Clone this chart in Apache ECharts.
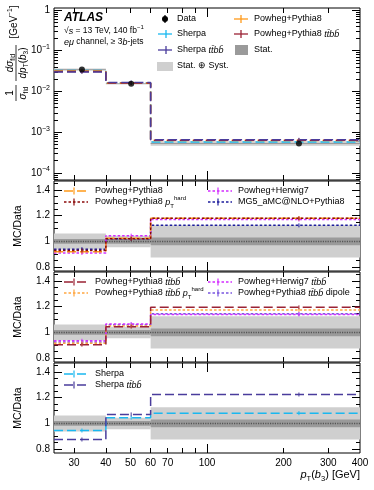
<!DOCTYPE html>
<html><head><meta charset="utf-8">
<script src="https://cdn.jsdelivr.net/npm/echarts@6/dist/echarts.min.js"></script>
<style>html,body{margin:0;padding:0;background:#fff}#c{width:374px;height:490px}</style>
</head><body><div id="c"></div>
<script>
// ---------------- data ----------------
const binEdges = [25, 40, 60, 400];
const dataX = [32.2, 50.3, 230];
const dataY = [0.0345, 0.0155, 0.00053];
// top panel predictions (normalised cross-section, GeV^-1)
const topPP8 = [0.0318, 0.0159, 0.000625];
const topPP8ttbb = [0.0311, 0.0161, 0.00063];
const topSherpa = [0.0326, 0.0162, 0.000573];
const topSherpaTtbb = [0.0302, 0.0166, 0.00065];
// relative uncertainties of data
const relStatSyst = [0.062, 0.045, 0.125];
const relStat = [0.018, 0.018, 0.03];
// ratio panel 2
const rPP8 = [0.92, 1.025, 1.18];
const rPP8hard = [0.93, 1.02, 1.18];
const rPH7 = [0.91, 1.045, 1.17];
const rMG5 = [0.94, 1.02, 1.125];
// ratio panel 3
const rPP8ttbb = [0.905, 1.045, 1.195];
const rPP8ttbbHard = [0.915, 1.05, 1.175];
const rPH7ttbb = [0.935, 1.065, 1.14];
const rPP8ttbbDipole = [0.925, 1.06, 1.145];
// ratio panel 4
const rSherpa = [0.945, 1.045, 1.08];
const rSherpaTtbb = [0.875, 1.07, 1.225];
// ticks / labels
const xTickLabels = [30, 40, 50, 60, 70, 100, 200, 300, 400];
const xMinorTicks = [30, 40, 50, 60, 70, 80, 90, 200, 300];
const xMajorTicks = [100];
const yTopLabels = [1e-4, 1e-3, 1e-2, 1e-1, 1];
const ratioLabels = [0.8, 1, 1.2, 1.4];

// ---------------- style ----------------
const FONT = '"Liberation Sans", Arial, Helvetica, sans-serif';
const C = {
  orange: '#ff9a1a', darkred: '#8b0a0a', ttbbRed: '#9b2335', magenta: '#d22cff',
  mg5: '#1c1c9c', lorange: '#ffa640', dipole: '#7a55e0', sky: '#1ab8f0', slate: '#4a3c9c',
  light: '#cfcfcf', dark: '#9a9a9a'
};
const LONG = [9, 4], DOT = [2.5, 2];

const yTopMinor = [];
for (let e = -5; e <= 0; e++) for (let m = 2; m <= 9; m++) yTopMinor.push(m * Math.pow(10, e));
const ratioMinor = [];
for (let v = 0.8; v <= 1.451; v += 0.05) ratioMinor.push(Math.round(v * 100) / 100);

const gridDefs = [[8, 172], [181, 90], [272, 90], [363, 90]];
const grids = gridDefs.map(g => ({left: 54, right: 14, top: g[0], height: g[1], show: true,
  borderColor: '#000', borderWidth: 1, backgroundColor: 'transparent', containLabel: false}));

const xAxes = [], yAxes = [];
function xAx(gi, pos, ticks, len, withLabels) {
  return {type: 'log', logBase: 10, gridIndex: gi, position: pos, min: 25, max: 400,
    axisLine: {show: false, onZero: false}, splitLine: {show: false},
    axisTick: {show: true, inside: true, length: len, customValues: ticks, lineStyle: {color: '#000', width: 1}},
    axisLabel: withLabels ? {show: true, customValues: xTickLabels, margin: 5, fontSize: 10, fontFamily: FONT, color: '#000',
      formatter: v => String(Math.round(v))} : {show: false}};
}
function yAx(gi, pos, isTop, ticks, len, withLabels) {
  const base = isTop ? {type: 'log', logBase: 10, min: 6.7e-5, max: 1.12} : {type: 'value', min: 0.77, max: 1.47};
  return Object.assign(base, {gridIndex: gi, position: pos,
    axisLine: {show: false, onZero: false}, splitLine: {show: false},
    axisTick: {show: true, inside: true, length: len, customValues: ticks, lineStyle: {color: '#000', width: 1}},
    axisLabel: withLabels ? {show: true, customValues: isTop ? yTopLabels : ratioLabels, margin: 4, fontSize: 10,
      fontFamily: FONT, color: '#000',
      formatter: isTop ? (v => { const e = Math.round(Math.log10(v)); return e === 0 ? '1' : '10{s|\u2212' + (-e) + '}'; })
                       : (v => Math.abs(v - 1) < 1e-9 ? '1' : v.toFixed(1)),
      rich: {s: {fontSize: 7, fontFamily: FONT, verticalAlign: 'top', lineHeight: 14, color: '#000'}}} : {show: false}});
}
for (let gi = 0; gi < 4; gi++) {
  xAxes.push(xAx(gi, 'bottom', xMajorTicks, 9, gi === 3));
  xAxes.push(xAx(gi, 'bottom', xMinorTicks, 5, false));
  xAxes.push(xAx(gi, 'top', xMajorTicks, 9, false));
  xAxes.push(xAx(gi, 'top', xMinorTicks, 5, false));
  const isTop = gi === 0;
  const maj = isTop ? yTopLabels : ratioLabels, mnr = isTop ? yTopMinor : ratioMinor;
  yAxes.push(yAx(gi, 'left', isTop, maj, 8, true));
  yAxes.push(yAx(gi, 'left', isTop, mnr, 4, false));
  yAxes.push(yAx(gi, 'right', isTop, maj, 8, false));
  yAxes.push(yAx(gi, 'right', isTop, mnr, 4, false));
}

// ---------------- series ----------------
const series = [];
function band(gi, center, rel, color, z) {
  series.push({type: 'custom', xAxisIndex: gi * 4, yAxisIndex: gi * 4, silent: true, z: z, clip: true,
    encode: {x: [0, 1], y: [2, 3]},
    data: rel.map((r, i) => {
      const c = center ? center[i] : 1;
      return [binEdges[i], binEdges[i + 1], c * (1 - r), c * (1 + r)];
    }),
    renderItem: (params, api) => {
      const p0 = api.coord([api.value(0), api.value(3)]);
      const p1 = api.coord([api.value(1), api.value(2)]);
      return {type: 'rect', shape: {x: p0[0], y: p0[1], width: p1[0] - p0[0], height: p1[1] - p0[1]}, style: {fill: color}};
    }});
}
function step(gi, vals, color, dash, width, z) {
  series.push({type: 'line', xAxisIndex: gi * 4, yAxisIndex: gi * 4, step: 'end', symbol: 'none', silent: true,
    z: z || 3, clip: true, data: binEdges.map((e, i) => [e, vals[Math.min(i, vals.length - 1)]]),
    lineStyle: {color: color, width: width || 1.5, type: dash}});
  // small MC statistical error bar marks at the bin positions
  series.push({type: 'custom', xAxisIndex: gi * 4, yAxisIndex: gi * 4, silent: true, z: (z || 3) + 0.1, clip: true,
    encode: {x: 0, y: 1}, data: dataX.map((x, i) => [x, vals[i]]),
    renderItem: (params, api) => {
      const p = api.coord([api.value(0), api.value(1)]);
      return {type: 'line', shape: {x1: p[0], y1: p[1] - 2, x2: p[0], y2: p[1] + 2}, style: {stroke: color, lineWidth: 1}};
    }});
}
function unity(gi) {
  series.push({type: 'line', xAxisIndex: gi * 4, yAxisIndex: gi * 4, symbol: 'none', silent: true, z: 2,
    data: [[25, 1], [400, 1]], lineStyle: {color: '#555', width: 1.6, type: [1.2, 1.2]}});
}
// top panel
band(0, dataY, relStatSyst, C.light, 1);
band(0, dataY, relStat, C.dark, 1);
step(0, topSherpa, C.sky, LONG, 1.5);
step(0, topPP8, C.orange, LONG, 1.5);
step(0, topPP8ttbb, C.ttbbRed, LONG, 1.5);
step(0, topSherpaTtbb, C.slate, LONG, 1.5);
series.push({type: 'scatter', xAxisIndex: 0, yAxisIndex: 0, symbol: 'circle', symbolSize: 6, z: 5, silent: true,
  itemStyle: {color: '#000'}, data: dataX.map((x, i) => [x, dataY[i]])});
// ratio panels
for (let gi = 1; gi <= 3; gi++) { band(gi, null, relStatSyst, C.light, 1); band(gi, null, relStat, C.dark, 1); unity(gi); }
step(1, rMG5, C.mg5, DOT, 1.5);
step(1, rPH7, C.magenta, DOT, 1.5);
step(1, rPP8, C.orange, LONG, 1.5);
step(1, rPP8hard, C.darkred, DOT, 1.5);
step(2, rPP8ttbbDipole, C.dipole, DOT, 1.5);
step(2, rPH7ttbb, C.magenta, DOT, 1.5);
step(2, rPP8ttbbHard, C.lorange, DOT, 1.5);
step(2, rPP8ttbb, C.ttbbRed, LONG, 1.5);
step(3, rSherpa, C.sky, LONG, 1.5);
step(3, rSherpaTtbb, C.slate, LONG, 1.5);

// ---------------- graphic text / legends ----------------
const RICH = {
  i: {fontStyle: 'italic', fontSize: 9, fontFamily: FONT},
  sub: {fontSize: 6, fontFamily: FONT, verticalAlign: 'bottom', lineHeight: 14},
  sup: {fontSize: 6, fontFamily: FONT, verticalAlign: 'top', lineHeight: 14},
  b: {fontSize: 12, fontWeight: 'bold', fontStyle: 'italic', fontFamily: FONT}
};
const G = [];
function txt(x, y, text, opt) {
  G.push({type: 'text', x: x, y: y, silent: true, z: 50,
    style: Object.assign({text: text, fill: '#000', fontSize: 9, fontFamily: FONT, align: 'left', verticalAlign: 'middle', rich: RICH}, opt || {})});
}
function seg(x1, y1, x2, y2, color, dash, w) {
  G.push({type: 'line', silent: true, z: 50, shape: {x1, y1, x2, y2}, style: {stroke: color, lineWidth: w || 1.4, lineDash: dash || null}});
}
function rect(x, y, w, h, color) { G.push({type: 'rect', silent: true, z: 50, shape: {x, y, width: w, height: h}, style: {fill: color}}); }
const TT = 't t\u0304 b b\u0304'.replace(/ /g, '');

// ATLAS label
txt(64, 18, 'ATLAS', {fontSize: 12, fontWeight: 'bold', fontStyle: 'italic'});
txt(64, 31, '\u221A{i|s} = 13 TeV, 140 fb{sup|\u22121}', {fontSize: 8.5});
txt(64, 42, '{i|e\u03BC} channel, \u2265 3{i|b}-jets', {fontSize: 8.5});

// top legend
const c1 = 165, c2 = 241, t1 = 177, t2 = 254;
seg(c1, 15, c1, 23, '#000', null, 1.2);
G.push({type: 'circle', silent: true, z: 50, shape: {cx: c1, cy: 19, r: 3}, style: {fill: '#000'}});
txt(t1, 19, 'Data');
[[34, C.sky, 'Sherpa'], [50, C.slate, 'Sherpa {i|' + TT + '}']].forEach(r => {
  seg(c1 - 7, r[0], c1 + 7, r[0], r[1], null, 1.3); seg(c1 + 1, r[0] - 4, c1 + 1, r[0] + 4, r[1], null, 1.3); txt(t1, r[0], r[2]);
});
rect(c1 - 8, 62, 16, 9, C.light); txt(t1, 66, 'Stat. \u2295 Syst.');
[[19, C.orange, 'Powheg+Pythia8'], [34, C.ttbbRed, 'Powheg+Pythia8 {i|' + TT + '}']].forEach(r => {
  seg(c2 - 7, r[0], c2 + 7, r[0], r[1], null, 1.3); seg(c2, r[0] - 4, c2, r[0] + 4, r[1], null, 1.3); txt(t2, r[0], r[2]);
});
rect(c2 - 6, 45, 13, 10, C.dark); txt(t2, 50, 'Stat.');

// ratio legends
function rleg(x0, x1, tx, y, color, dash, label) {
  seg(x0, y, x1, y, color, dash, 1.5);
  seg(x0 + 10, y - 3.5, x0 + 10, y + 3.5, color, null, 1.2);
  txt(tx, y, label);
}
const hard = '{i|p}{sub|T}{sup|hard}';
rleg(64, 88, 95, 191, C.orange, LONG, 'Powheg+Pythia8');
rleg(64, 88, 95, 202, C.darkred, DOT, 'Powheg+Pythia8 ' + hard);
rleg(208, 232, 238, 191, C.magenta, DOT, 'Powheg+Herwig7');
rleg(208, 232, 238, 202, C.mg5, DOT, 'MG5_aMC@NLO+Pythia8');
rleg(64, 88, 95, 282, C.ttbbRed, LONG, 'Powheg+Pythia8 {i|' + TT + '}');
rleg(64, 88, 95, 293, C.lorange, DOT, 'Powheg+Pythia8 {i|' + TT + '} ' + hard);
rleg(208, 232, 238, 282, C.magenta, DOT, 'Powheg+Herwig7 {i|' + TT + '}');
rleg(208, 232, 238, 293, C.dipole, DOT, 'Powheg+Pythia8 {i|' + TT + '} dipole');
rleg(64, 88, 95, 374, C.sky, LONG, 'Sherpa');
rleg(64, 88, 95, 385, C.slate, LONG, 'Sherpa {i|' + TT + '}');

// axis titles
[226, 317, 408].forEach(y => G.push({type: 'text', silent: true, z: 50, x: 18, y: y, rotation: Math.PI / 2,
  style: {text: 'MC/Data', fontSize: 10.5, fontFamily: FONT, fill: '#000', align: 'center', verticalAlign: 'middle'}}));
G.push({type: 'text', silent: true, z: 50, x: 360, y: 475,
  style: {text: '{i|p}{sub|T}({i|b}{sub|3}) [GeV]', fontSize: 11, fontFamily: FONT, fill: '#000', align: 'right', verticalAlign: 'middle',
    rich: {i: {fontStyle: 'italic', fontSize: 11, fontFamily: FONT}, sub: {fontSize: 7.5, fontFamily: FONT, verticalAlign: 'bottom', lineHeight: 16}}}});
// top y-title (fraction form), rotated
const YR = {i: {fontStyle: 'italic', fontSize: 10, fontFamily: FONT}, s: {fontStyle: 'italic', fontSize: 6.5, fontFamily: FONT, verticalAlign: 'bottom', lineHeight: 14},
  n: {fontSize: 6.5, fontFamily: FONT, verticalAlign: 'bottom', lineHeight: 14}, sp: {fontSize: 6.5, fontFamily: FONT, verticalAlign: 'top', lineHeight: 14}};
G.push({type: 'group', x: 16, y: 93, rotation: Math.PI / 2, silent: true, z: 50, children: [
  {type: 'text', x: 0, y: -6, style: {text: '1', fontSize: 10, fontFamily: FONT, fill: '#000', align: 'center', verticalAlign: 'middle'}},
  {type: 'line', shape: {x1: -8, y1: 0, x2: 8, y2: 0}, style: {stroke: '#000', lineWidth: 0.8}},
  {type: 'text', x: 0, y: 7, style: {text: '{i|\u03C3}{n|fid}', fontSize: 10, fontFamily: FONT, fill: '#000', align: 'center', verticalAlign: 'middle', rich: YR}},
  {type: 'text', x: 30, y: -6, style: {text: '{i|d\u03C3}{n|fid}', fontSize: 10, fontFamily: FONT, fill: '#000', align: 'center', verticalAlign: 'middle', rich: YR}},
  {type: 'line', shape: {x1: 12, y1: 0, x2: 48, y2: 0}, style: {stroke: '#000', lineWidth: 0.8}},
  {type: 'text', x: 30, y: 7, style: {text: '{i|dp}{n|T}({i|b}{n|3})', fontSize: 10, fontFamily: FONT, fill: '#000', align: 'center', verticalAlign: 'middle', rich: YR}},
  {type: 'text', x: 71, y: -2, style: {text: '[GeV{sp|\u22121}]', fontSize: 10, fontFamily: FONT, fill: '#000', align: 'center', verticalAlign: 'middle', rich: YR}}
]});

const chart = echarts.init(document.getElementById('c'), null, {renderer: 'canvas'});
chart.setOption({animation: false, backgroundColor: '#fff', grid: grids, xAxis: xAxes, yAxis: yAxes, series: series, graphic: {elements: G}});
</script></body></html>
